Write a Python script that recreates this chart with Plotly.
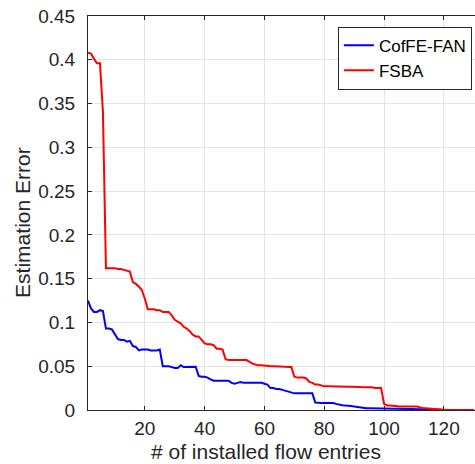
import plotly.graph_objects as go

entries = list(range(1, 131))

fsba = [
    0.408, 0.407, 0.401, 0.396, 0.396, 0.340, 0.162, 0.162, 0.162, 0.162,
    0.161, 0.161, 0.160, 0.159, 0.158, 0.146, 0.144, 0.141, 0.137, 0.127,
    0.115, 0.115, 0.115, 0.114, 0.114, 0.112, 0.112, 0.112, 0.108, 0.103,
    0.101, 0.099, 0.095, 0.093, 0.090, 0.086, 0.084, 0.084, 0.080, 0.076,
    0.075, 0.075, 0.074, 0.070, 0.070, 0.069, 0.058, 0.057, 0.057, 0.057,
    0.057, 0.057, 0.057, 0.057, 0.055, 0.053, 0.052, 0.051, 0.051, 0.0505,
    0.050, 0.050, 0.050, 0.050, 0.0498, 0.0496, 0.0494, 0.049, 0.049, 0.038,
    0.037, 0.037, 0.037, 0.036, 0.032, 0.031, 0.029, 0.029, 0.028, 0.027,
    0.027, 0.027, 0.027, 0.027, 0.027, 0.027, 0.027, 0.027, 0.0265, 0.0265,
    0.0265, 0.0262, 0.026, 0.026, 0.026, 0.026, 0.025, 0.025, 0.025, 0.007,
    0.005, 0.005, 0.0045, 0.004, 0.004, 0.004, 0.004, 0.004, 0.004, 0.004,
    0.004, 0.003, 0.002, 0.002, 0.002, 0.0015, 0.001, 0.001, 0.0005, 0.0,
    0.0, 0.0, 0.0, 0.0, 0.0, 0.0, 0.0, 0.0, 0.0, 0.0,
]

coffe_fan = [
    0.125, 0.116, 0.112, 0.112, 0.114, 0.113, 0.093, 0.093, 0.092, 0.087,
    0.081, 0.080, 0.080, 0.078, 0.079, 0.073, 0.072, 0.068, 0.069, 0.069,
    0.069, 0.068, 0.068, 0.068, 0.069, 0.050, 0.050, 0.050, 0.049, 0.048,
    0.048, 0.051, 0.049, 0.049, 0.049, 0.0495, 0.0495, 0.039, 0.038, 0.038,
    0.037, 0.035, 0.0335, 0.0335, 0.0335, 0.0335, 0.0335, 0.0335, 0.031, 0.030,
    0.031, 0.032, 0.031, 0.031, 0.031, 0.031, 0.031, 0.031, 0.031, 0.030,
    0.029, 0.025, 0.025, 0.024, 0.024, 0.023, 0.022, 0.021, 0.020, 0.019,
    0.019, 0.019, 0.019, 0.019, 0.019, 0.019, 0.0085, 0.008, 0.008, 0.008,
    0.008, 0.008, 0.008, 0.007, 0.006, 0.0055, 0.005, 0.005, 0.0045, 0.004,
    0.0035, 0.003, 0.002, 0.002, 0.002, 0.002, 0.002, 0.002, 0.002, 0.002,
    0.002, 0.002, 0.0018, 0.0016, 0.0015, 0.0014, 0.0013, 0.0012, 0.0011, 0.001,
    0.001, 0.0008, 0.0, 0.0, 0.0, 0.0, 0.0, 0.0, 0.0, 0.0,
    0.0, 0.0, 0.0, 0.0, 0.0, 0.0, 0.0, 0.0, 0.0, 0.0,
]

y_ticks = [0, 0.05, 0.1, 0.15, 0.2, 0.25, 0.3, 0.35, 0.4, 0.45]
y_tick_labels = ["0", "0.05", "0.1", "0.15", "0.2", "0.25", "0.3", "0.35", "0.4", "0.45"]
x_ticks = [20, 40, 60, 80, 100, 120]

FONT = "Liberation Sans, Arial, sans-serif"
AX = "#262626"

fig = go.Figure()
fig.add_trace(go.Scatter(x=entries, y=coffe_fan, mode="lines", name="CofFE-FAN",
                         line=dict(color="#0000ff", width=2)))
fig.add_trace(go.Scatter(x=entries, y=fsba, mode="lines", name="FSBA",
                         line=dict(color="#ff0000", width=2)))

fig.update_layout(
    width=475, height=464,
    margin=dict(l=88, r=0, t=16, b=54),
    paper_bgcolor="white", plot_bgcolor="white",
    font=dict(family=FONT, size=19, color=AX),
    showlegend=True,
    legend=dict(x=0.992, y=0.973, xanchor="right", yanchor="top",
                bgcolor="white", bordercolor=AX, borderwidth=1,
                font=dict(size=17, color="black"), tracegroupgap=0,
                itemwidth=30),
    xaxis=dict(range=[1, 130.4], tickvals=x_ticks, ticks="inside", ticklen=4,
               tickcolor=AX, showline=True, linecolor=AX, linewidth=1,
               mirror="ticks", showgrid=True, gridcolor="#e3e3e3", gridwidth=1,
               zeroline=False, tickfont=dict(size=19, color=AX),
               ticklabelstandoff=1),
    yaxis=dict(range=[0, 0.45], tickvals=y_ticks, ticktext=y_tick_labels,
               ticks="inside", ticklen=4, tickcolor=AX, showline=True,
               linecolor=AX, linewidth=1, mirror=False, showgrid=True,
               gridcolor="#e3e3e3", gridwidth=1, zeroline=False,
               tickfont=dict(size=19, color=AX), ticklabelstandoff=8),
    annotations=[
        dict(text="# of installed flow entries", xref="paper", yref="paper",
             x=0.46, y=-0.1365, xanchor="center", yanchor="bottom",
             showarrow=False, borderpad=0, font=dict(size=21, color=AX)),
        dict(text="Estimation Error", xref="paper", yref="paper",
             x=-0.171, y=0.477, xanchor="center", yanchor="middle", textangle=-90,
             showarrow=False, font=dict(size=21, color=AX)),
    ],
)

fig.write_html("out.html")
